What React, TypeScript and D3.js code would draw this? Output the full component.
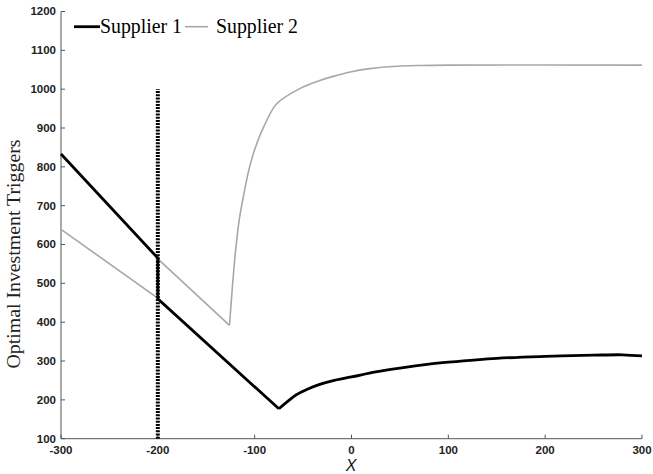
import React, { useEffect, useRef } from "react";
import * as d3 from "d3";

// tick values
const xTicks = [-300, -200, -100, 0, 100, 200, 300];
const yTicks = [100, 200, 300, 400, 500, 600, 700, 800, 900, 1000, 1100, 1200];

// Supplier 1: straight part (with jump at x = -200) and curved part
const supplier1Straight: [number, number][] = [
  [-300, 833], [-200, 565], [-200, 460], [-75, 177],
];
const supplier1Curve: [number, number][] = [
  [-75, 177], [-65, 198], [-57, 213], [-45, 228], [-35, 238], [-20, 249],
  [0, 259], [25, 272], [50, 282], [80, 292], [100, 297], [150, 307],
  [200, 312], [250, 315], [280, 316], [300, 313],
];

// Supplier 2
const supplier2Straight: [number, number][] = [
  [-300, 639], [-200, 462], [-200, 563], [-126, 392],
];
const supplier2Curve: [number, number][] = [
  [-126, 392], [-123, 491], [-120, 577], [-116, 663], [-111, 732],
  [-106, 792], [-99, 852], [-89, 912], [-77, 963], [-53, 1002],
  [-32, 1023], [-19, 1033], [0, 1045], [19, 1053], [47, 1059],
  [70, 1061], [100, 1062], [300, 1062],
];

const markerX = -200;
const markerRange = [100, 1000];

const W = 653;
const H = 474;

const App = () => {
  const ref = useRef<SVGSVGElement>(null);

  useEffect(() => {
    const svg = d3.select(ref.current);
    svg.selectAll("*").remove();

    const x = d3.scaleLinear().domain([-300, 300]).range([61, 642]);
    const y = d3.scaleLinear().domain([100, 1200]).range([438.7, 11.5]);

    const axisColor = "#555";
    const tickFont = "'Liberation Sans', Arial, sans-serif";

    // axes lines
    svg.append("line")
      .attr("x1", x(-300)).attr("x2", x(300))
      .attr("y1", y(100)).attr("y2", y(100))
      .attr("stroke", axisColor).attr("stroke-width", 1);
    svg.append("line")
      .attr("x1", x(-300)).attr("x2", x(-300))
      .attr("y1", y(100)).attr("y2", y(1200))
      .attr("stroke", axisColor).attr("stroke-width", 1);

    // x ticks (inward)
    const xt = svg.append("g");
    xTicks.forEach((t) => {
      xt.append("line")
        .attr("x1", x(t)).attr("x2", x(t))
        .attr("y1", y(100)).attr("y2", y(100) - 4)
        .attr("stroke", axisColor);
      xt.append("text")
        .attr("x", x(t)).attr("y", 454)
        .attr("text-anchor", "middle")
        .attr("font-family", tickFont).attr("font-weight", "bold")
        .attr("font-size", 11.5).attr("fill", "#222")
        .text(t);
    });

    // y ticks (inward)
    const yt = svg.append("g");
    yTicks.forEach((t) => {
      yt.append("line")
        .attr("x1", x(-300)).attr("x2", x(-300) + 4)
        .attr("y1", y(t)).attr("y2", y(t))
        .attr("stroke", axisColor);
      yt.append("text")
        .attr("x", 56).attr("y", y(t))
        .attr("dy", "0.34em")
        .attr("text-anchor", "end")
        .attr("font-family", tickFont).attr("font-weight", "bold")
        .attr("font-size", 11.5).attr("fill", "#222")
        .text(t);
    });

    const straight = d3.line<[number, number]>()
      .x((d) => x(d[0])).y((d) => y(d[1]));
    const smooth = d3.line<[number, number]>()
      .x((d) => x(d[0])).y((d) => y(d[1]))
      .curve(d3.curveCatmullRom.alpha(0.5));

    const gray = "#a8a8a8";
    svg.append("path").attr("d", straight(supplier2Straight)).attr("fill", "none")
      .attr("stroke", gray).attr("stroke-width", 1.6).attr("stroke-linejoin", "miter");
    svg.append("path").attr("d", smooth(supplier2Curve)).attr("fill", "none")
      .attr("stroke", gray).attr("stroke-width", 1.6);

    svg.append("path").attr("d", straight(supplier1Straight)).attr("fill", "none")
      .attr("stroke", "#000").attr("stroke-width", 2.8).attr("stroke-linejoin", "miter");
    svg.append("path").attr("d", smooth(supplier1Curve)).attr("fill", "none")
      .attr("stroke", "#000").attr("stroke-width", 2.8);

    // dotted marker line
    svg.append("line")
      .attr("x1", x(markerX)).attr("x2", x(markerX))
      .attr("y1", y(markerRange[0])).attr("y2", y(markerRange[1]))
      .attr("stroke", "#000").attr("stroke-width", 4)
      .attr("stroke-dasharray", "2,1.2");

    // legend
    const serif = "'Liberation Serif', 'Times New Roman', serif";
    svg.append("line").attr("x1", 74).attr("x2", 100).attr("y1", 26.7).attr("y2", 26.7)
      .attr("stroke", "#000").attr("stroke-width", 2.8);
    svg.append("text").attr("x", 100).attr("y", 32.5)
      .attr("font-family", serif).attr("font-size", 20)
      .attr("textLength", 82).attr("lengthAdjust", "spacingAndGlyphs")
      .text("Supplier 1");
    svg.append("line").attr("x1", 185).attr("x2", 208).attr("y1", 26.7).attr("y2", 26.7)
      .attr("stroke", gray).attr("stroke-width", 1.6);
    svg.append("text").attr("x", 216).attr("y", 32.5)
      .attr("font-family", serif).attr("font-size", 20)
      .attr("textLength", 82).attr("lengthAdjust", "spacingAndGlyphs")
      .text("Supplier 2");

    // axis labels
    svg.append("text")
      .attr("transform", "translate(20,254) rotate(-90)")
      .attr("text-anchor", "middle")
      .attr("font-family", serif).attr("font-size", 18)
      .attr("textLength", 229).attr("lengthAdjust", "spacingAndGlyphs")
      .attr("fill", "#222")
      .text("Optimal Investment Triggers");
    svg.append("text")
      .attr("x", 351).attr("y", 471)
      .attr("text-anchor", "middle")
      .attr("font-family", tickFont).attr("font-style", "italic")
      .attr("font-size", 16).attr("fill", "#111")
      .text("X");
  }, []);

  return (
    <svg
      ref={ref}
      width={W}
      height={H}
      style={{ position: "absolute", left: 0, top: 0, background: "#fff" }}
    />
  );
};

export default App;
